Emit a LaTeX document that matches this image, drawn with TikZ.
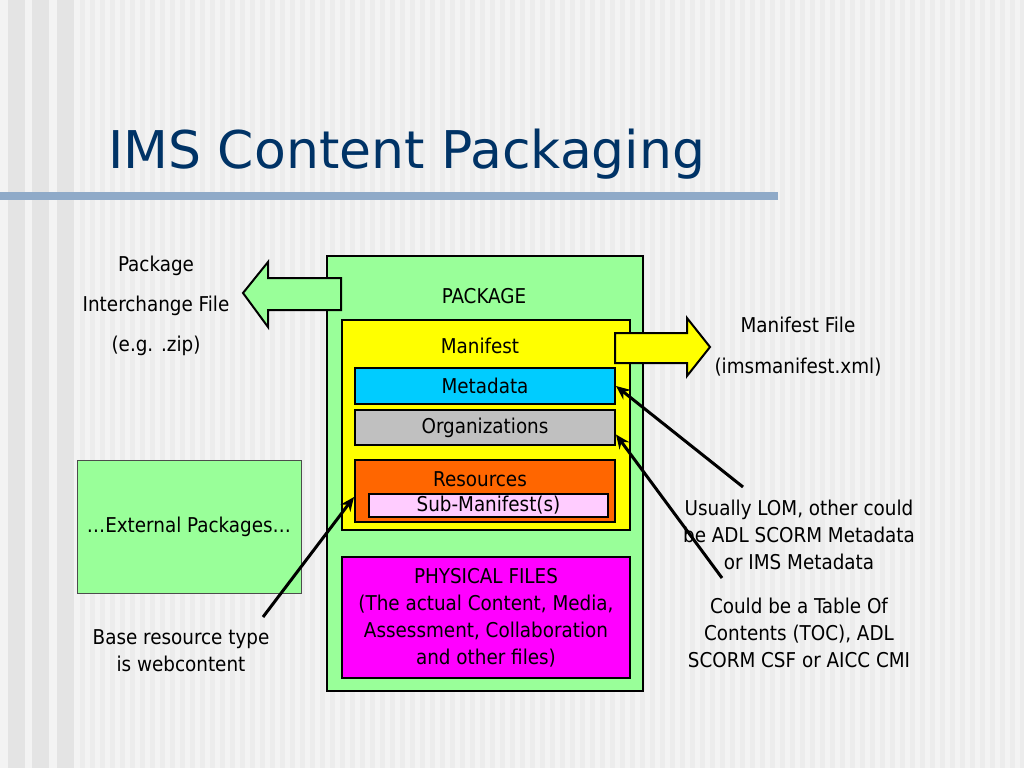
\documentclass[tikz,border=0pt]{standalone}
\usepackage{fontspec}
\setmainfont{DejaVu Sans Condensed}
\newfontfamily\titlefont{DejaVu Sans}
\usetikzlibrary{arrows.meta}
\definecolor{bgbase}{HTML}{F3F3F3}
\definecolor{stripedark}{HTML}{E4E4E4}
\definecolor{stripelight}{HTML}{ECECEC}
\definecolor{rulecol}{HTML}{8FAAC8}
\definecolor{titleblue}{HTML}{003366}
\definecolor{pkggreen}{HTML}{99FF99}
\definecolor{mfyellow}{HTML}{FFFF00}
\definecolor{metacyan}{HTML}{00CCFF}
\definecolor{orggray}{HTML}{C0C0C0}
\definecolor{resorange}{HTML}{FF6600}
\definecolor{subpink}{HTML}{FFCCFF}
\definecolor{physmag}{HTML}{FF00FF}

\begin{document}
\begin{tikzpicture}[x=1pt,y=-1pt]
\tikzstyle{box}=[rectangle,draw=black,line width=2pt,inner sep=0pt,font=\fontsize{20.4}{27}\selectfont]
\tikzstyle{note}=[align=center,font=\fontsize{20.4}{27}\selectfont]
\tikzstyle{pointer}=[line width=3pt,-{Stealth[length=14pt,width=12pt]}]
\useasboundingbox (0,0) rectangle (1024,768);
% background
\fill[bgbase] (0,0) rectangle (1024,768);
\foreach \x in {8,32,57} \fill[stripedark] (\x,0) rectangle ++(17,768);
\foreach \x in {80,90,...,1020} \fill[stripelight] (\x,0) rectangle ++(5,768);
\fill[rulecol] (0,192) rectangle (778,200);
\node[anchor=base west,inner sep=0pt,text=titleblue,font=\titlefont\fontsize{52}{60}\selectfont] (title) at (108,168) {IMS Content Packaging};

% package and its parts
\node[box,fill=pkggreen,minimum width=316pt,minimum height=435pt] (package) at (485,473.5) {};
\node[note] (pkglabel) at (484,296) {PACKAGE};
\node[box,fill=mfyellow,minimum width=288pt,minimum height=210pt] (manifest) at (486,425) {};
\node[note] (mflabel) at (480,346) {Manifest};
\node[box,fill=metacyan,minimum width=260pt,minimum height=36pt] (meta) at (485,386) {Metadata};
\node[box,fill=orggray,minimum width=260pt,minimum height=35pt] (org) at (485,427.5) {Organizations};
\node[box,fill=resorange,minimum width=260pt,minimum height=62pt] (res) at (485,491) {};
\node[note] (reslabel) at (480,479) {Resources};
\node[box,fill=subpink,minimum width=239pt,minimum height=23pt] (sub) at (488.5,505.5) {Sub-Manifest(s)};
\node[box,fill=physmag,minimum width=288pt,minimum height=121pt,align=center] (phys) at (486,617.5)
  {PHYSICAL FILES\\(The actual Content, Media,\\Assessment, Collaboration\\and other files)};
\node[box,fill=pkggreen,draw=black!70,line width=0.8pt,minimum width=224pt,minimum height=133pt] (ext) at (189,526.5) {\dots External Packages\dots};

% block arrows
\draw[line width=2pt,fill=pkggreen] (341,278) -- (268,278) -- (268,262) -- (243,293) -- (268,327) -- (268,310) -- (341,310) -- cycle;
\draw[line width=2pt,fill=mfyellow] (615,333) -- (687,333) -- (687,318) -- (710,347) -- (687,376) -- (687,363) -- (615,363) -- cycle;

% notes
\node[note,font=\fontsize{20.4}{40}\selectfont] (pif) at (156,306) {Package\\Interchange File\\(e.g. .zip)};
\node[note,font=\fontsize{20.4}{41}\selectfont] (mfile) at (798,347) {Manifest File\\(imsmanifest.xml)};
\node[note] (lom) at (799,535) {Usually LOM, other could\\be ADL SCORM Metadata\\or IMS Metadata};
\node[note] (toc) at (799,633) {Could be a Table Of\\Contents (TOC), ADL\\SCORM CSF or AICC CMI};
\node[note] (base) at (181,651) {Base resource type\\is webcontent};

% pointers
\coordinate (lomfrom) at (743,487);
\coordinate (tocfrom) at (722,578);
\coordinate (basefrom) at (263,617);
\draw[pointer] (lomfrom) -- (meta.east);
\draw[pointer] (tocfrom) -- ([yshift=-7pt]org.east);
\draw[pointer] (basefrom) -- ([yshift=-6pt]res.west);
\end{tikzpicture}
\end{document}
